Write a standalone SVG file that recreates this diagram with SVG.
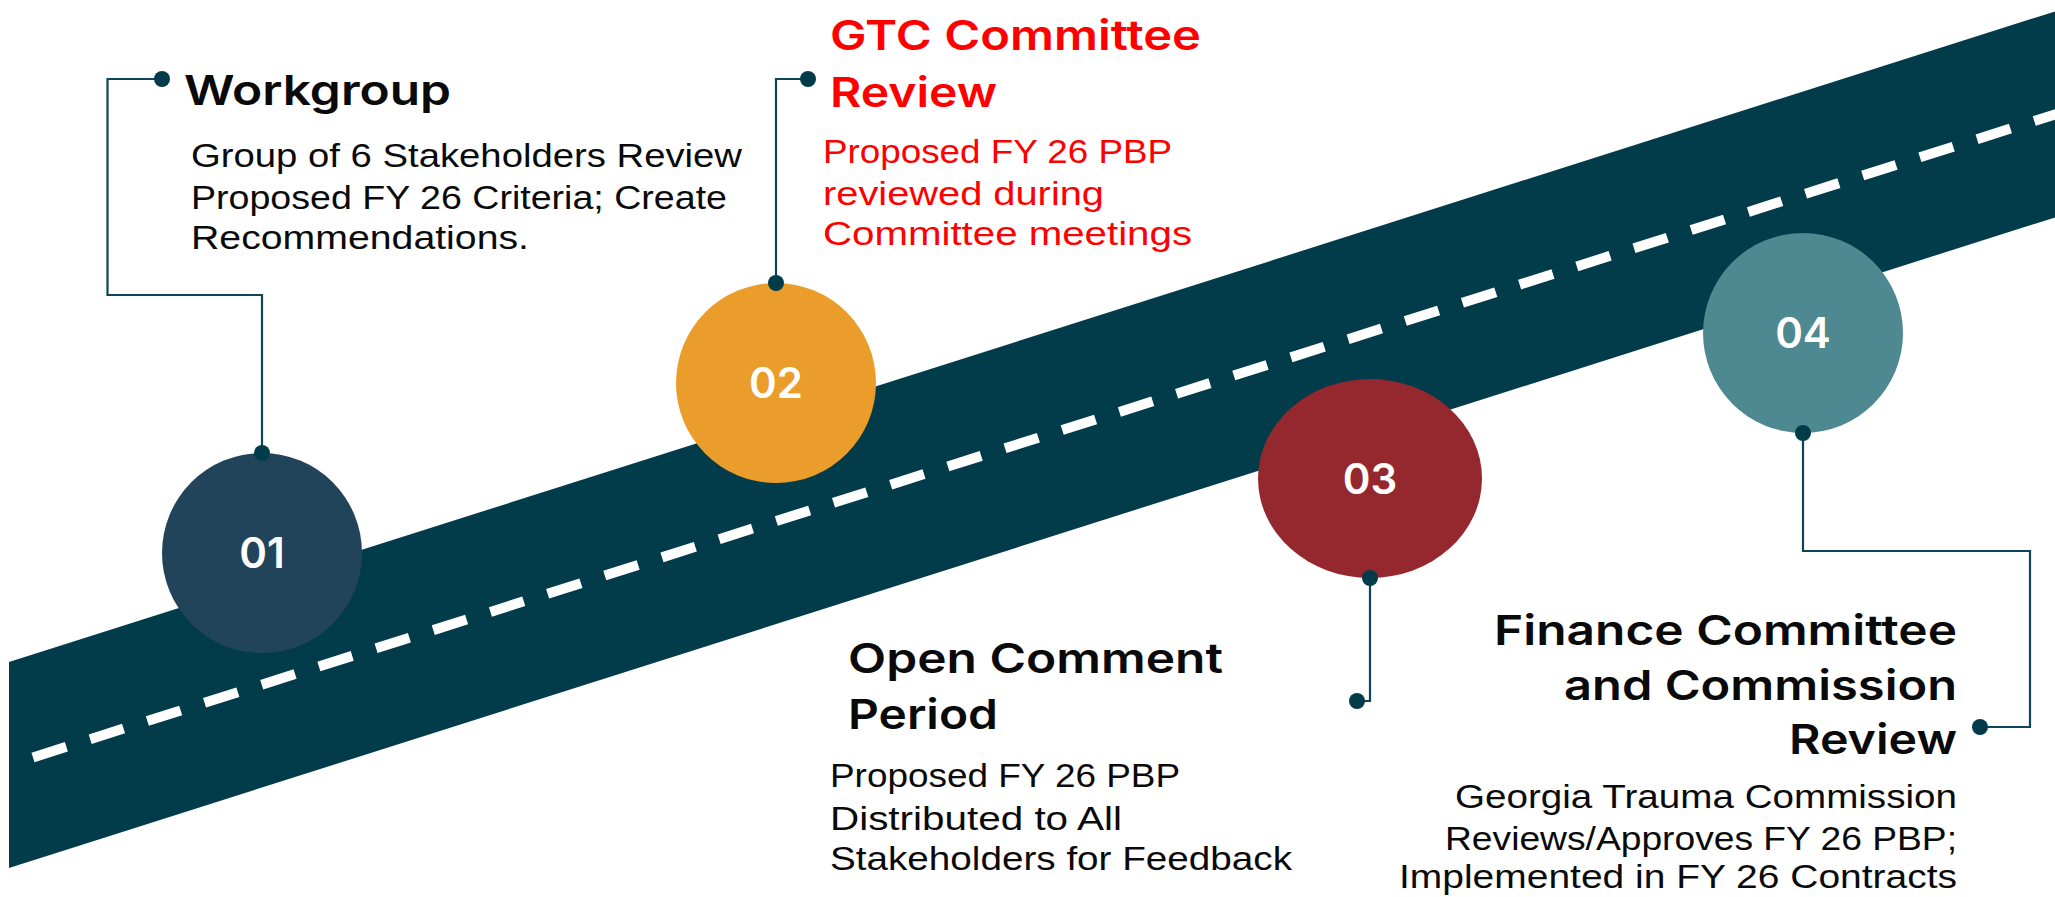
<svg xmlns="http://www.w3.org/2000/svg" width="2055" height="897" viewBox="0 0 2055 897">
<style>
.h{font-family:Inter,"Open Sans","Liberation Sans",sans-serif;font-weight:600;font-size:41px;fill:#0a0a0a}
.b{font-family:"Liberation Sans",Arial,sans-serif;font-weight:400;font-size:33px;fill:#0a0a0a}
.red{fill:#ff0000}
.num{font-family:Inter,"Open Sans","Liberation Sans",sans-serif;font-weight:600;font-size:42px;fill:#ffffff;text-anchor:middle}
.conn{fill:none;stroke:#0d4456;stroke-width:2.2}
.dot{fill:#023c4b}
</style>
<rect width="2055" height="897" fill="#ffffff"/>
<g id="road">
<polygon points="9,662 2060,9.8 2060,215.8 9,868" fill="#023c4b"/>
<line x1="33" y1="757.4" x2="2060" y2="112.8" stroke="#ffffff" stroke-width="10" stroke-dasharray="35 25"/>
</g>
<g id="connectors">
<path class="conn" d="M262,453 V295 H107.5 V79 H162"/>
<path class="conn" d="M776,283 V79 H808"/>
<path class="conn" d="M1370,578 V701 H1357"/>
<path class="conn" d="M1803,433 V551 H2030 V727 H1980"/>
</g>
<g id="node-01">
<circle cx="262" cy="553" r="100" fill="#22445b"/>
<text class="num" x="262" y="568">01</text>
<circle class="dot" cx="262" cy="453" r="8"/>
<circle class="dot" cx="162" cy="79" r="8"/>
<text class="h" x="184" y="105" textLength="267" lengthAdjust="spacingAndGlyphs">Workgroup</text>
<text class="b" x="191" y="166.5" textLength="551" lengthAdjust="spacingAndGlyphs">Group of 6 Stakeholders Review</text>
<text class="b" x="191" y="209" textLength="536" lengthAdjust="spacingAndGlyphs">Proposed FY 26 Criteria; Create</text>
<text class="b" x="191" y="248.5" textLength="338" lengthAdjust="spacingAndGlyphs">Recommendations.</text>
</g>
<g id="node-02">
<circle cx="776" cy="383" r="100" fill="#ea9d2a"/>
<text class="num" x="776" y="398">02</text>
<circle class="dot" cx="776" cy="283" r="8"/>
<circle class="dot" cx="808" cy="79" r="8"/>
<text class="h red" x="830" y="50" textLength="371" lengthAdjust="spacingAndGlyphs">GTC Committee</text>
<text class="h red" x="830" y="107" textLength="167" lengthAdjust="spacingAndGlyphs">Review</text>
<text class="b red" x="823" y="163.3" textLength="349" lengthAdjust="spacingAndGlyphs">Proposed FY 26 PBP</text>
<text class="b red" x="823" y="205" textLength="281" lengthAdjust="spacingAndGlyphs">reviewed during</text>
<text class="b red" x="823" y="245" textLength="369" lengthAdjust="spacingAndGlyphs">Committee meetings</text>
</g>
<g id="node-03">
<ellipse cx="1370" cy="478.5" rx="112" ry="99.5" fill="#94282e"/>
<text class="num" x="1370" y="493.5">03</text>
<circle class="dot" cx="1370" cy="578" r="8"/>
<circle class="dot" cx="1357" cy="701" r="8"/>
<text class="h" x="848" y="673" textLength="375" lengthAdjust="spacingAndGlyphs">Open Comment</text>
<text class="h" x="848" y="728.5" textLength="150" lengthAdjust="spacingAndGlyphs">Period</text>
<text class="b" x="830" y="786.7" textLength="350" lengthAdjust="spacingAndGlyphs">Proposed FY 26 PBP</text>
<text class="b" x="830" y="830" textLength="292" lengthAdjust="spacingAndGlyphs">Distributed to All</text>
<text class="b" x="830" y="869.5" textLength="462" lengthAdjust="spacingAndGlyphs">Stakeholders for Feedback</text>
</g>
<g id="node-04">
<circle cx="1803" cy="333" r="100" fill="#4e8890"/>
<text class="num" x="1803" y="348">04</text>
<circle class="dot" cx="1803" cy="433" r="8"/>
<circle class="dot" cx="1980" cy="727" r="8"/>
<text class="h" x="1494" y="644.5" textLength="463" lengthAdjust="spacingAndGlyphs">Finance Committee</text>
<text class="h" x="1564" y="700" textLength="393" lengthAdjust="spacingAndGlyphs">and Commission</text>
<text class="h" x="1789" y="753.8" textLength="168" lengthAdjust="spacingAndGlyphs">Review</text>
<text class="b" x="1455" y="808.3" textLength="502" lengthAdjust="spacingAndGlyphs">Georgia Trauma Commission</text>
<text class="b" x="1445" y="850" textLength="512" lengthAdjust="spacingAndGlyphs">Reviews/Approves FY 26 PBP;</text>
<text class="b" x="1399" y="887.5" textLength="558" lengthAdjust="spacingAndGlyphs">Implemented in FY 26 Contracts</text>
</g>
</svg>
